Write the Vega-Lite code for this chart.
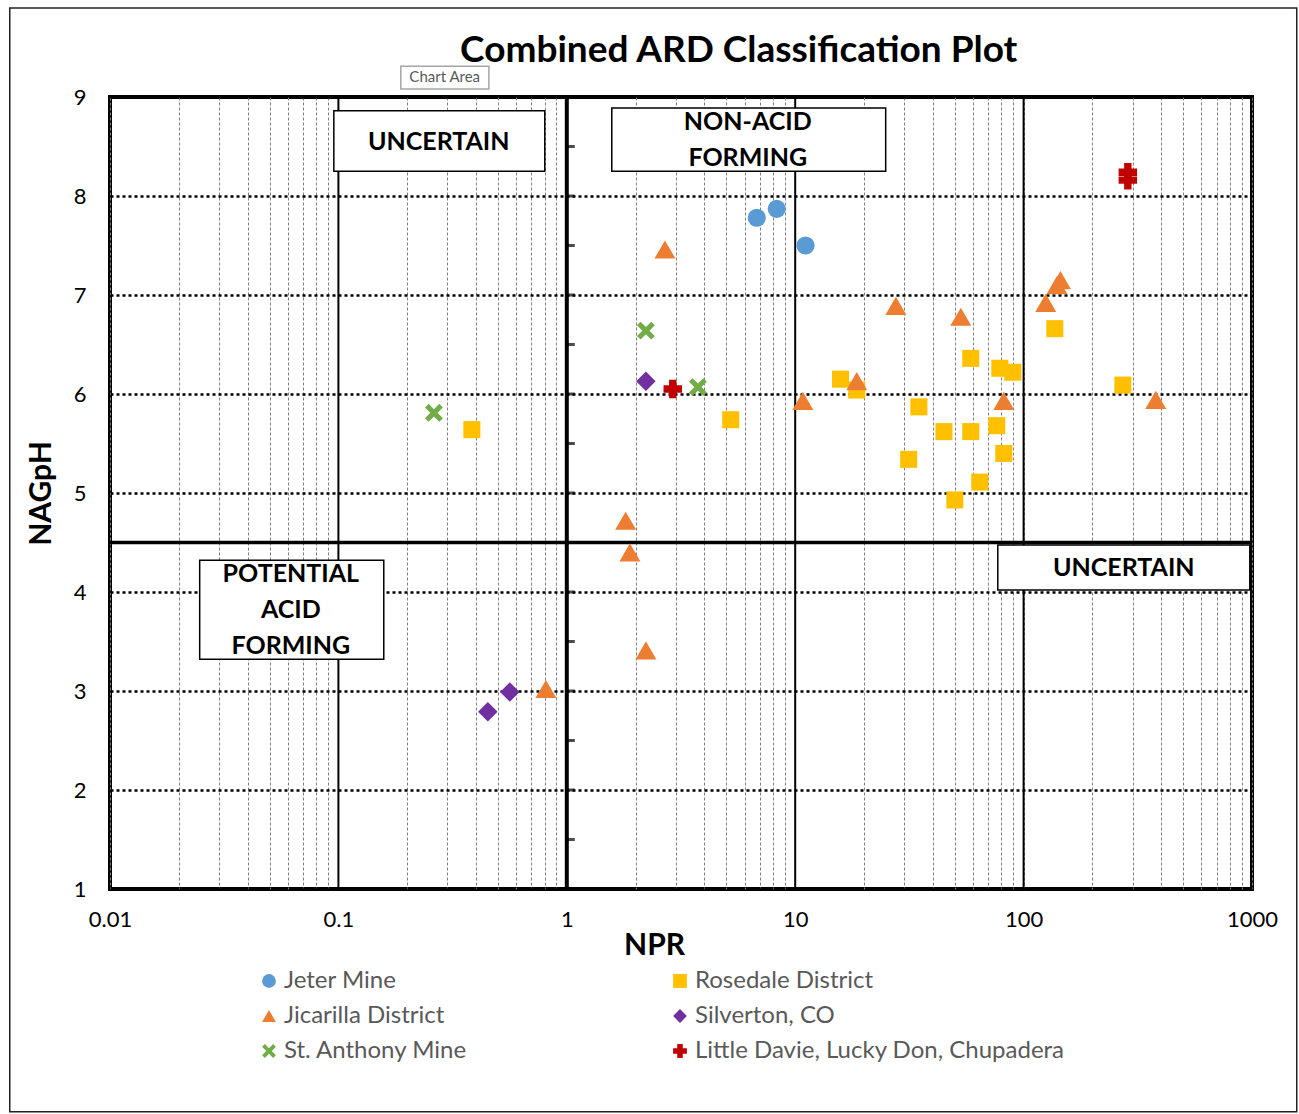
{
  "$schema": "https://vega.github.io/schema/vega-lite/v6.json",
  "width": 1142,
  "height": 792,
  "autosize": {"type": "none"},
  "padding": {"left": 110, "top": 97, "right": 47, "bottom": 225},
  "background": "white",
  "config": {
    "view": {"stroke": "#000", "strokeWidth": 4},
    "font": "Lato",
    "legend": {
      "orient": "none", "legendX": 147, "legendY": 872, "columns": 2,
      "padding": 0, "columnPadding": 200, "rowPadding": 11,
      "labelFontSize": 24, "labelColor": "#595959", "labelFont": "Lato", "labelLimit": 500,
      "symbolSize": 190, "labelOffset": 3, "symbolStrokeWidth": 0
    }
  },
  "datasets": {
    "points": [
      {"NPR": 0.384, "NAGpH": 5.64, "Site": "Rosedale District"},
      {"NPR": 5.22, "NAGpH": 5.74, "Site": "Rosedale District"},
      {"NPR": 15.8, "NAGpH": 6.15, "Site": "Rosedale District"},
      {"NPR": 18.6, "NAGpH": 6.04, "Site": "Rosedale District"},
      {"NPR": 34.8, "NAGpH": 5.87, "Site": "Rosedale District"},
      {"NPR": 58.7, "NAGpH": 6.36, "Site": "Rosedale District"},
      {"NPR": 78.7, "NAGpH": 6.26, "Site": "Rosedale District"},
      {"NPR": 89.7, "NAGpH": 6.22, "Site": "Rosedale District"},
      {"NPR": 137, "NAGpH": 6.66, "Site": "Rosedale District"},
      {"NPR": 272, "NAGpH": 6.09, "Site": "Rosedale District"},
      {"NPR": 44.8, "NAGpH": 5.62, "Site": "Rosedale District"},
      {"NPR": 58.7, "NAGpH": 5.62, "Site": "Rosedale District"},
      {"NPR": 76.3, "NAGpH": 5.68, "Site": "Rosedale District"},
      {"NPR": 31.4, "NAGpH": 5.34, "Site": "Rosedale District"},
      {"NPR": 81.9, "NAGpH": 5.40, "Site": "Rosedale District"},
      {"NPR": 64.3, "NAGpH": 5.11, "Site": "Rosedale District"},
      {"NPR": 50, "NAGpH": 4.93, "Site": "Rosedale District"},
      {"NPR": 6.79, "NAGpH": 7.78, "Site": "Jeter Mine"},
      {"NPR": 8.3, "NAGpH": 7.87, "Site": "Jeter Mine"},
      {"NPR": 11.1, "NAGpH": 7.50, "Site": "Jeter Mine"},
      {"NPR": 2.69, "NAGpH": 7.46, "Site": "Jicarilla District"},
      {"NPR": 27.6, "NAGpH": 6.89, "Site": "Jicarilla District"},
      {"NPR": 53.1, "NAGpH": 6.78, "Site": "Jicarilla District"},
      {"NPR": 125, "NAGpH": 6.92, "Site": "Jicarilla District"},
      {"NPR": 140, "NAGpH": 7.10, "Site": "Jicarilla District"},
      {"NPR": 145, "NAGpH": 7.15, "Site": "Jicarilla District"},
      {"NPR": 10.8, "NAGpH": 5.93, "Site": "Jicarilla District"},
      {"NPR": 18.6, "NAGpH": 6.13, "Site": "Jicarilla District"},
      {"NPR": 81.9, "NAGpH": 5.93, "Site": "Jicarilla District"},
      {"NPR": 379, "NAGpH": 5.94, "Site": "Jicarilla District"},
      {"NPR": 1.81, "NAGpH": 4.72, "Site": "Jicarilla District"},
      {"NPR": 1.89, "NAGpH": 4.40, "Site": "Jicarilla District"},
      {"NPR": 2.22, "NAGpH": 3.41, "Site": "Jicarilla District"},
      {"NPR": 0.81, "NAGpH": 3.02, "Site": "Jicarilla District"},
      {"NPR": 2.22, "NAGpH": 6.13, "Site": "Silverton, CO"},
      {"NPR": 0.563, "NAGpH": 2.99, "Site": "Silverton, CO"},
      {"NPR": 0.451, "NAGpH": 2.79, "Site": "Silverton, CO"},
      {"NPR": 0.262, "NAGpH": 5.81, "Site": "St. Anthony Mine"},
      {"NPR": 2.22, "NAGpH": 6.64, "Site": "St. Anthony Mine"},
      {"NPR": 3.75, "NAGpH": 6.07, "Site": "St. Anthony Mine"},
      {"NPR": 2.91, "NAGpH": 6.05, "Site": "Little Davie, Lucky Don, Chupadera"},
      {"NPR": 286, "NAGpH": 8.24, "Site": "Little Davie, Lucky Don, Chupadera"},
      {"NPR": 286, "NAGpH": 8.16, "Site": "Little Davie, Lucky Don, Chupadera"}
    ],
    "zones": [
      {"x1": 0.0955, "x2": 0.801, "y1": 8.25, "y2": 8.86, "tx": 0.275, "ty": 8.545, "label": ["UNCERTAIN"]},
      {"x1": 1.574, "x2": 24.9, "y1": 8.25, "y2": 8.89, "tx": 6.2, "ty": 8.747, "label": ["NON-ACID", "FORMING"]},
      {"x1": 0.0247, "x2": 0.158, "y1": 3.32, "y2": 4.32, "tx": 0.0619, "ty": 4.182, "label": ["POTENTIAL", "ACID", "FORMING"]},
      {"x1": 77.1, "x2": 978, "y1": 4.02, "y2": 4.475, "tx": 274.6, "ty": 4.24, "label": ["UNCERTAIN"]}
    ],
    "majors": [{"v": 0.1}, {"v": 10}, {"v": 100}],
    "halfticks": [
      {"y": 1.5}, {"y": 2}, {"y": 2.5}, {"y": 3}, {"y": 3.5}, {"y": 4}, {"y": 5},
      {"y": 5.5}, {"y": 6}, {"y": 6.5}, {"y": 7}, {"y": 7.5}, {"y": 8}, {"y": 8.5}
    ]
  },
  "layer": [
    {
      "data": {"values": [{}]},
      "mark": {"type": "rect", "fill": null, "fillOpacity": 0, "stroke": "#222", "strokeWidth": 1.5},
      "encoding": {
        "x": {"datum": 0.00364, "type": "quantitative", "scale": {"type": "log", "domain": [0.01, 1000], "nice": false}},
        "x2": {"datum": 1570},
        "y": {"datum": 9.9, "type": "quantitative"},
        "y2": {"datum": -1.25}
      }
    },
    {
      "data": {"name": "points"},
      "mark": {"type": "point", "filled": true, "opacity": 0, "size": 1},
      "encoding": {
        "x": {
          "field": "NPR", "type": "quantitative",
          "scale": {"type": "log", "domain": [0.01, 1000], "nice": false},
          "axis": {
            "title": "NPR", "titleFontSize": 30, "titleFontWeight": "bold", "titleColor": "#000", "titleFont": "Lato",
            "titlePadding": 0, "titleX": 544, "titleAlign": "center",
            "values": [0.01, 0.02, 0.03, 0.04, 0.05, 0.06, 0.07, 0.08, 0.09, 0.1, 0.2, 0.3, 0.4, 0.5, 0.6, 0.7, 0.8, 0.9, 1, 2, 3, 4, 5, 6, 7, 8, 9, 10, 20, 30, 40, 50, 60, 70, 80, 90, 100, 200, 300, 400, 500, 600, 700, 800, 900, 1000],
            "format": "~g",
            "labelExpr": "indexof([0.01, 0.1, 1, 10, 100, 1000], datum.value) >= 0 ? datum.label : ''",
            "labelFontSize": 22, "labelColor": "#000", "labelPadding": 20, "labelFont": "Lato",
            "labelFlush": false,
            "ticks": false, "domain": false,
            "grid": true, "gridColor": "#7f7f7f", "gridDash": [3, 2], "gridWidth": 1,
            "labelOverlap": false
          }
        },
        "y": {
          "field": "NAGpH", "type": "quantitative",
          "scale": {"domain": [1, 9], "nice": false, "zero": false},
          "axis": {
            "title": "NAGpH", "titleFontSize": 30, "titleFontWeight": "bold", "titleColor": "#000", "titleFont": "Lato",
            "titlePadding": 17,
            "values": [1, 2, 3, 4, 5, 6, 7, 8, 9],
            "format": "d",
            "labelFontSize": 22, "labelColor": "#000", "labelPadding": 24, "labelFont": "Lato",
            "labelFlush": false,
            "ticks": false, "domain": false,
            "grid": true, "gridColor": "#000", "gridDash": [3, 3], "gridWidth": 2.5
          }
        }
      }
    },
    {
      "data": {"name": "majors"},
      "mark": {"type": "rule", "color": "#000", "strokeWidth": 2},
      "encoding": {"x": {"field": "v", "type": "quantitative"}}
    },
    {
      "data": {"values": [{}]},
      "mark": {"type": "rule", "color": "#000", "strokeWidth": 4},
      "encoding": {"x": {"datum": 1, "type": "quantitative"}}
    },
    {
      "data": {"values": [{}]},
      "mark": {"type": "rule", "color": "#000", "strokeWidth": 3.5},
      "encoding": {"y": {"datum": 4.5, "type": "quantitative"}}
    },
    {
      "data": {"name": "halfticks"},
      "mark": {"type": "tick", "orient": "horizontal", "color": "#000", "size": 8, "thickness": 3, "xOffset": 4},
      "encoding": {
        "x": {"datum": 1, "type": "quantitative"},
        "y": {"field": "y", "type": "quantitative"}
      }
    },
    {
      "data": {"name": "zones"},
      "mark": {"type": "rect", "fill": "white", "stroke": "#000", "strokeWidth": 1.5},
      "encoding": {
        "x": {"field": "x1", "type": "quantitative"},
        "x2": {"field": "x2"},
        "y": {"field": "y1", "type": "quantitative"},
        "y2": {"field": "y2"}
      }
    },
    {
      "data": {"name": "zones"},
      "mark": {"type": "text", "font": "Lato", "fontSize": 25, "fontWeight": "bold", "color": "#000", "align": "center", "baseline": "middle", "lineHeight": 36},
      "encoding": {
        "x": {"field": "tx", "type": "quantitative"},
        "y": {"field": "ty", "type": "quantitative"},
        "text": {"field": "label"}
      }
    },
    {
      "data": {"values": [{"t": "Combined ARD Classification Plot"}]},
      "mark": {"type": "text", "font": "Lato", "fontSize": 37, "fontWeight": "bold", "color": "#000", "align": "center", "baseline": "middle"},
      "encoding": {
        "x": {"datum": 5.66, "type": "quantitative"},
        "y": {"datum": 9.46, "type": "quantitative"},
        "text": {"field": "t"}
      }
    },
    {
      "data": {"values": [{}]},
      "mark": {"type": "rect", "fill": "white", "stroke": "#a6a6a6", "strokeWidth": 1.5},
      "encoding": {
        "x": {"datum": 0.1876, "type": "quantitative"},
        "x2": {"datum": 0.456},
        "y": {"datum": 9.08, "type": "quantitative"},
        "y2": {"datum": 9.31}
      }
    },
    {
      "data": {"values": [{"t": "Chart Area"}]},
      "mark": {"type": "text", "font": "Lato", "fontSize": 15, "color": "#595959", "align": "center", "baseline": "middle"},
      "encoding": {
        "x": {"datum": 0.292, "type": "quantitative"},
        "y": {"datum": 9.2, "type": "quantitative"},
        "text": {"field": "t"}
      }
    },
    {
      "data": {"name": "points"},
      "mark": {
        "type": "point", "filled": true, "opacity": 1, "strokeWidth": 0,
        "size": {"expr": "datum.Site == 'Jicarilla District' ? 440 : datum.Site == 'Silverton, CO' ? 380 : datum.Site == 'Little Davie, Lucky Don, Chupadera' ? 340 : datum.Site == 'St. Anthony Mine' ? 320 : datum.Site == 'Jeter Mine' ? 330 : 290"}
      },
      "encoding": {
        "x": {"field": "NPR", "type": "quantitative"},
        "y": {"field": "NAGpH", "type": "quantitative"},
        "color": {
          "field": "Site", "type": "nominal",
          "scale": {
            "domain": ["Jeter Mine", "Jicarilla District", "St. Anthony Mine", "Rosedale District", "Silverton, CO", "Little Davie, Lucky Don, Chupadera"],
            "range": ["#5B9BD5", "#ED7D31", "#70AD47", "#FFC000", "#7030A0", "#C00000"]
          },
          "legend": {"title": null}
        },
        "shape": {
          "field": "Site", "type": "nominal",
          "scale": {
            "domain": ["Jeter Mine", "Jicarilla District", "St. Anthony Mine", "Rosedale District", "Silverton, CO", "Little Davie, Lucky Don, Chupadera"],
            "range": ["circle", "triangle-up", "M-1,-0.6L-0.6,-1L0,-0.4L0.6,-1L1,-0.6L0.4,0L1,0.6L0.6,1L0,0.4L-0.6,1L-1,0.6L-0.4,0Z", "square", "diamond", "cross"]
          },
          "legend": {"title": null}
        }
      }
    }
  ]
}
